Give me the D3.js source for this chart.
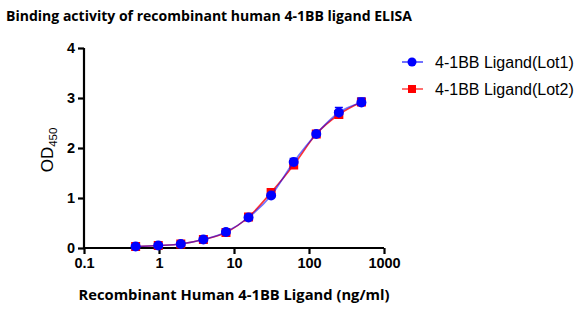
<!DOCTYPE html>
<html>
<head>
<meta charset="utf-8">
<script src="https://cdn.jsdelivr.net/npm/d3@7"></script>
<style>
  html, body { margin: 0; padding: 0; background: #fff; }
  svg { display: block; }
</style>
</head>
<body>
<svg id="chart" width="583" height="331"></svg>
<script>
// Two-fold dilution series (ng/ml)
const concentrations = [0.488, 0.977, 1.953, 3.906, 7.8125, 15.625, 31.25, 62.5, 125, 250, 500];
// OD450 readings per lot
const lot1 = [0.03, 0.05, 0.08, 0.17, 0.32, 0.61, 1.05, 1.72, 2.28, 2.71, 2.91];
const lot2 = [0.03, 0.05, 0.08, 0.17, 0.31, 0.62, 1.11, 1.66, 2.28, 2.67, 2.92];
// standard deviations
const lot1Err = [0.02, 0.02, 0.02, 0.03, 0.03, 0.03, 0.03, 0.07, 0.04, 0.1, 0.09];
const lot2Err = [0.02, 0.02, 0.02, 0.02, 0.03, 0.03, 0.03, 0.04, 0.04, 0.06, 0.06];
const xTicks = [0.1, 1, 10, 100, 1000];
const yTicks = [0, 1, 2, 3, 4];
const seriesNames = ["4-1BB Ligand(Lot1)", "4-1BB Ligand(Lot2)"];

const svg = d3.select("#chart");
const x = d3.scaleLog().domain([0.1, 1000]).range([84, 384]);
const y = d3.scaleLinear().domain([0, 4]).range([248, 48]);

// Title
svg.append("text")
  .attr("x", 6).attr("y", 21)
  .attr("font-family", "Open Sans, sans-serif")
  .attr("font-weight", "bold")
  .attr("font-size", 15)
  .attr("textLength", 406)
  .attr("lengthAdjust", "spacingAndGlyphs")
  .text("Binding activity of recombinant human 4-1BB ligand ELISA");

// Axes
const xAxis = d3.axisBottom(x).tickValues(xTicks).tickFormat(d => String(d)).tickSizeOuter(0).tickSize(6).tickPadding(4);
const yAxis = d3.axisLeft(y).tickValues(yTicks).tickFormat(d3.format("d")).tickSizeOuter(0).tickSize(6).tickPadding(3);

const gx = svg.append("g").attr("transform", `translate(0,${y(0)})`).call(xAxis);
const gy = svg.append("g").attr("transform", `translate(${x(0.1)},0)`).call(yAxis);
[gx, gy].forEach(g => {
  g.select(".domain").attr("stroke", "#000").attr("stroke-width", 2.2);
  g.selectAll(".tick line").attr("stroke", "#000").attr("stroke-width", 2.2);
  g.selectAll(".tick text")
    .attr("font-family", "Liberation Sans, Arial, sans-serif")
    .attr("font-weight", "bold")
    .attr("font-size", 14.5)
    .attr("fill", "#000");
});
gy.select(".domain").attr("d", `M-0,${y(4)}V${y(0) + 1}`);
gx.select(".domain").attr("d", `M${x(0.1) - 1},0H${x(1000)}`);

// Axis titles
svg.append("text")
  .attr("x", 234).attr("y", 300)
  .attr("text-anchor", "middle")
  .attr("font-family", "Open Sans, sans-serif")
  .attr("font-weight", "bold")
  .attr("font-size", 14)
  .attr("textLength", 311)
  .attr("lengthAdjust", "spacingAndGlyphs")
  .text("Recombinant Human 4-1BB Ligand (ng/ml)");

const yt = svg.append("text")
  .attr("transform", `translate(53,150) rotate(-90)`)
  .attr("text-anchor", "middle")
  .attr("font-family", "Liberation Sans, Arial, sans-serif")
  .attr("font-size", 17)
  .attr("fill", "#000");
yt.append("tspan").text("OD");
yt.append("tspan").attr("font-size", 11.5).attr("dy", 4).text("450");

// Series
const series = [
  { name: seriesNames[1], values: lot2, err: lot2Err, color: "#ff0000", shape: "square" },
  { name: seriesNames[0], values: lot1, err: lot1Err, color: "#0000ff", shape: "circle" }
];

const line = d3.line().x(d => x(d[0])).y(d => y(d[1])).curve(d3.curveMonotoneX);

series.forEach((s, si) => {
  const pts = concentrations.map((c, i) => [c, s.values[i], s.err[i]]);
  const g = svg.append("g");
  g.append("path")
    .datum(pts)
    .attr("d", line)
    .attr("fill", "none")
    .attr("stroke", s.color)
    .attr("stroke-opacity", si === 0 ? 0.8 : 0.55)
    .attr("stroke-width", 1.6);
  // error bars
  const eb = g.selectAll(".eb").data(pts).enter().append("g");
  eb.append("line")
    .attr("x1", d => x(d[0])).attr("x2", d => x(d[0]))
    .attr("y1", d => y(d[1] + d[2])).attr("y2", d => y(d[1] - d[2]))
    .attr("stroke", s.color).attr("stroke-width", 1.5);
  eb.append("line")
    .attr("x1", d => x(d[0]) - 4).attr("x2", d => x(d[0]) + 4)
    .attr("y1", d => y(d[1] + d[2])).attr("y2", d => y(d[1] + d[2]))
    .attr("stroke", s.color).attr("stroke-width", 1.5);
  if (s.shape === "square") {
    g.selectAll(".m").data(pts).enter().append("rect")
      .attr("x", d => x(d[0]) - 4.5).attr("y", d => y(d[1]) - 4.5)
      .attr("width", 9).attr("height", 9)
      .attr("fill", s.color);
  } else {
    g.selectAll(".m").data(pts).enter().append("circle")
      .attr("cx", d => x(d[0])).attr("cy", d => y(d[1]))
      .attr("r", 5)
      .attr("fill", s.color);
  }
});

// Legend
const legend = [
  { name: seriesNames[0], color: "#0000ff", shape: "circle", y: 62 },
  { name: seriesNames[1], color: "#ff0000", shape: "square", y: 89 }
];
legend.forEach(l => {
  const g = svg.append("g");
  g.append("line").attr("x1", 402).attr("x2", 423).attr("y1", l.y).attr("y2", l.y)
    .attr("stroke", l.color).attr("stroke-opacity", 0.7).attr("stroke-width", 1.6);
  if (l.shape === "circle") {
    g.append("circle").attr("cx", 412).attr("cy", l.y).attr("r", 4.5).attr("fill", l.color);
  } else {
    g.append("rect").attr("x", 408).attr("y", l.y - 4).attr("width", 8).attr("height", 8).attr("fill", l.color);
  }
  g.append("text").attr("x", 435).attr("y", l.y + 5.5)
    .attr("font-family", "Liberation Sans, Arial, sans-serif")
    .attr("font-size", 16)
    .attr("fill", "#000")
    .text(l.name);
});
</script>
</body>
</html>
